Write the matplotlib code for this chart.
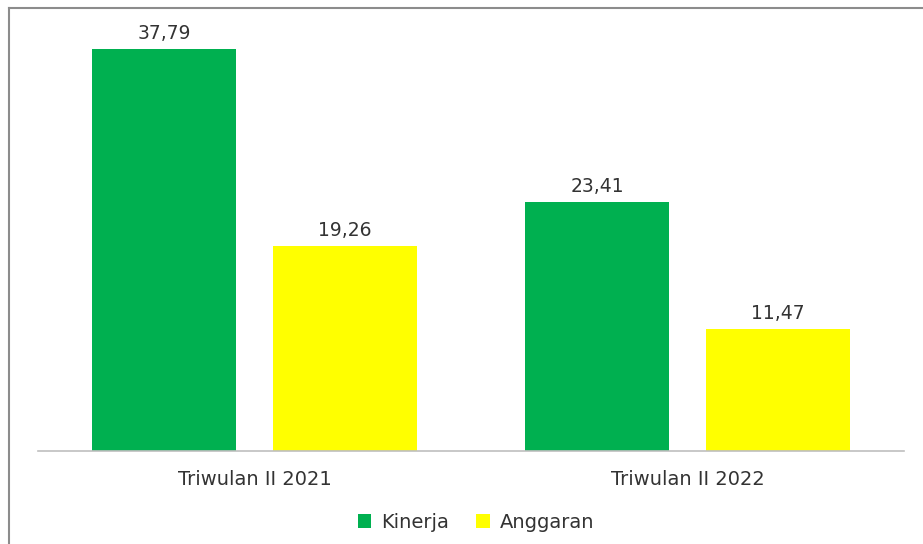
import numpy as np
import matplotlib.pyplot as plt
from matplotlib.lines import Line2D

# data
periods = ["Triwulan II 2021", "Triwulan II 2022"]
kinerja = [37.79, 23.41]
anggaran = [19.26, 11.47]

W, H = 923, 544
fig = plt.figure(figsize=(W/100., H/100.), dpi=100)
ax = fig.add_axes([38./W, (H-451.)/H, (904.-38.)/W, (451.-25.)/H])

x = np.arange(len(periods))
bw = 0.333
off = 0.209
b1 = ax.bar(x-off, kinerja, bw, color='#00B050', label='Kinerja')
b2 = ax.bar(x+off, anggaran, bw, color='#FFFF00', label='Anggaran')

for bars, vals in [(b1, kinerja), (b2, anggaran)]:
    for r, v in zip(bars, vals):
        ax.annotate(f"{v:.2f}".replace('.', ','), (r.get_x()+r.get_width()/2, v),
                    xytext=(0, 7), textcoords='offset points', ha='center', va='baseline',
                    fontsize=13.5, color='#333333')

ax.set_xlim(-0.5, 1.5)
ax.set_ylim(0, 40)
ax.set_xticks(x)
ax.set_xticklabels(periods, fontsize=14, color='#333333')
ax.tick_params(axis='x', length=0, pad=14)
ax.set_yticks([])
for s in ['top', 'right', 'left']:
    ax.spines[s].set_visible(False)
ax.spines['bottom'].set_color('#BFBFBF')
ax.spines['bottom'].set_linewidth(1.2)

fig.legend(handles=[b1, b2], loc='center', bbox_to_anchor=(476./W, 22./H), ncol=2,
           frameon=False, fontsize=14, handlelength=0.7, handleheight=0.7,
           handletextpad=0.5, columnspacing=1.4, labelcolor='#333333')

# outer border (left and top only visible in the crop)
fig.add_artist(Line2D([8.5/W, 8.5/W], [0, (H-7.5)/H], transform=fig.transFigure,
                      color='#8C8C8C', lw=1.5))
fig.add_artist(Line2D([8.5/W, 1], [(H-7.5)/H, (H-7.5)/H], transform=fig.transFigure,
                      color='#8C8C8C', lw=1.5))

fig.savefig('out.png', dpi=100)
